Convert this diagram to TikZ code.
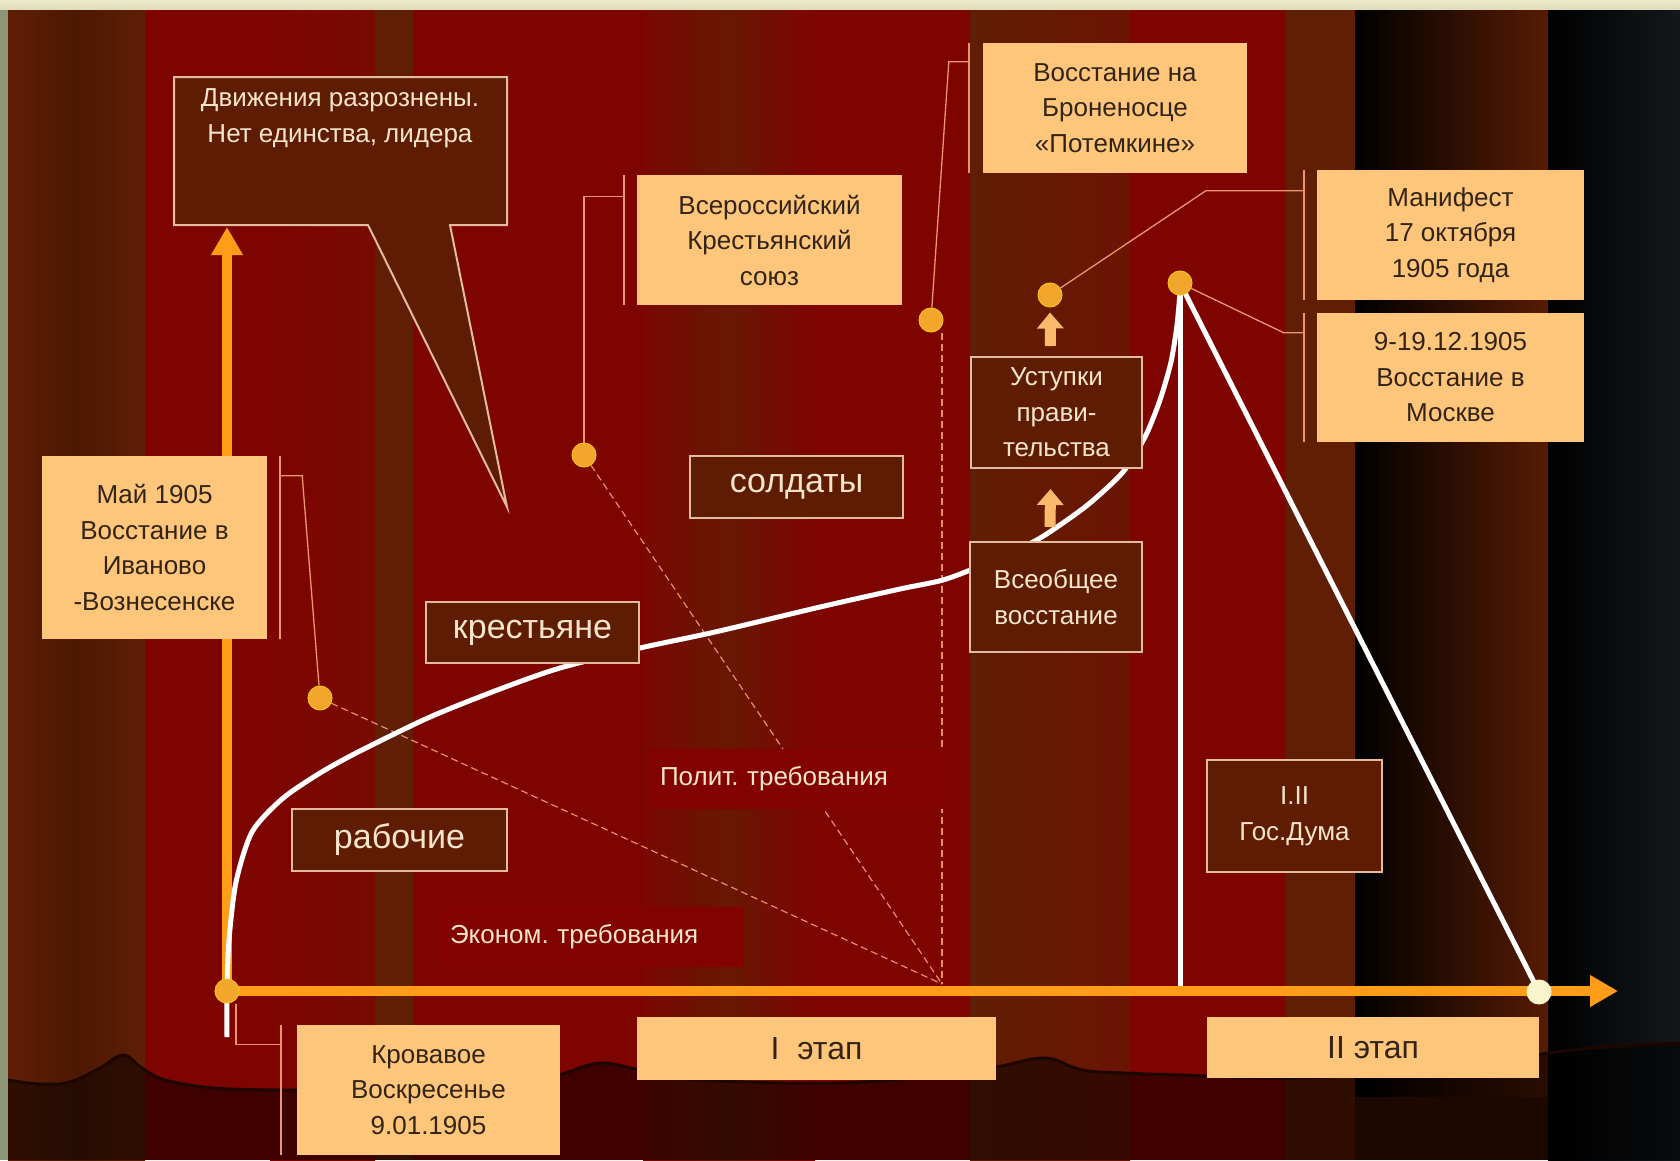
\documentclass[tikz,border=0pt]{standalone}
\usepackage{fontspec}
\setmainfont{Liberation Sans}
\usepackage{xcolor}
\usepackage{tikz}
\usetikzlibrary{arrows.meta}

\definecolor{stripeRed}{RGB}{126,4,0}
\definecolor{stripeBrown}{RGB}{96,30,4}
\definecolor{evFill}{RGB}{253,198,122}
\definecolor{evText}{RGB}{52,36,24}
\definecolor{grFill}{RGB}{94,28,3}
\definecolor{grLine}{RGB}{226,188,160}
\definecolor{grText}{RGB}{246,228,204}
\definecolor{axOrange}{RGB}{255,156,24}
\definecolor{dotFill}{RGB}{242,166,44}
\definecolor{endFill}{RGB}{250,244,205}
\definecolor{leadCol}{RGB}{236,150,112}
\definecolor{dashCol}{RGB}{232,144,98}
\definecolor{tagFill}{RGB}{130,2,0}
\definecolor{liftCol}{RGB}{250,186,108}
\definecolor{frameSide}{RGB}{142,148,118}
\definecolor{frameTop}{RGB}{236,234,200}
\definecolor{groundLine}{RGB}{30,6,0}
\definecolor{nightGray}{RGB}{20,23,27}

\pgfdeclarelayer{back}
\pgfdeclarelayer{lines}
\pgfsetlayers{back,lines,main}

\begin{document}
\frenchspacing
\begin{tikzpicture}[ % GLOBAL CFG
    x=1pt, y=-1pt,
    font=\fontsize{26}{35.5}\selectfont,
    % Styles
    eventbox/.style={% For the orange event boxes
        rectangle,
        fill=evFill,
        text=evText,
        align=center,
        inner sep=0pt,
        },
    stagebox/.style={% For the stages under the axis
        rectangle,
        fill=evFill,
        text=evText,
        inner sep=0pt,
        font=\fontsize{32}{38}\selectfont,
        },
    groupbox/.style={% For the dark boxes
        rectangle,
        draw=grLine,
        line width=2pt,
        fill=grFill,
        text=grText,
        align=center,
        inner sep=0pt,
        },
    bigtext/.style={% Social groups
        font=\fontsize{34}{40}\selectfont,
        },
    bubble/.style={% Speech bubble
        draw=grLine,
        line width=2pt,
        fill=grFill,
        },
    demandtag/.style={% Demands
        rectangle,
        fill=tagFill,
        text=grText,
        align=left,
        inner xsep=12pt,
        inner ysep=0pt,
        minimum height=60pt,
        },
    knot/.style={% Points on the time line
        circle,
        fill=dotFill,
        draw=dotFill!70!yellow,
        line width=1pt,
        minimum size=24pt,
        inner sep=0pt,
        },
    accent/.style={% Callout bars
        draw=leadCol,
        line width=2pt,
        },
    leader/.style={% Callout lines
        draw=leadCol,
        line width=1.3pt,
        },
    demand/.style={% Dashed lines
        draw=dashCol,
        line width=1.2pt,
        dash pattern=on 7pt off 4pt,
        },
    timeaxis/.style={% Axes
        draw=axOrange,
        line width=10pt,
        -{Triangle[width=30pt,length=28pt]},
        },
    trend/.style={% The white curve
        draw=white,
        line width=5pt,
        },
    lift/.style={% Small block arrows
        draw=liftCol,
        line width=11pt,
        -{Triangle[width=26pt,length=16pt]},
        },
    ]

    \useasboundingbox (0,0) rectangle (1680,1160);

    \begin{pgfonlayer}{back}
    % Stripes
    \shade[left color=stripeBrown, right color=stripeBrown, middle color=stripeBrown!80!black] (8,9) rectangle (145,1160);
    \fill[stripeRed] (145,9) rectangle (270,1160);
    \shade[left color=stripeRed, right color=stripeRed!75!stripeBrown] (270,9) rectangle (375,1160);
    \fill[stripeBrown] (375,9) rectangle (413,1160);
    \fill[stripeRed] (413,9) rectangle (643,1160);
    \shade[left color=stripeRed!85!stripeBrown, right color=stripeRed, middle color=stripeBrown!75!stripeRed] (643,9) rectangle (815,1160);
    \fill[stripeRed] (815,9) rectangle (970,1160);
    \shade[left color=stripeBrown, right color=stripeBrown!60!stripeRed] (970,9) rectangle (1130,1160);
    \fill[stripeRed] (1130,9) rectangle (1286,1160);
    \fill[stripeBrown] (1286,9) rectangle (1355,1160);
    \shade[left color=black, right color=stripeBrown!90!black] (1355,9) rectangle (1548,1097);
    \fill[stripeBrown!60!black] (1355,1097) rectangle (1548,1160);
    \shade[left color=black, right color=nightGray] (1548,9) rectangle (1680,1160);

    % Ground
    \fill[black, opacity=0.5] plot[smooth, tension=0.6] coordinates {(8,1080) (40,1084) (70,1082) (100,1068) (123,1055) (142,1068) (165,1080) (214,1088) (279,1090) (350,1090) (450,1086) (530,1080) (562,1074) (600,1063) (640,1070) (700,1080) (836,1083) (940,1075) (996,1067) (1045,1058) (1082,1070) (1125,1073) (1179,1075) (1300,1078) (1450,1068) (1548,1053) (1607,1047) (1680,1043)} -- (1680,1160) -- (8,1160) -- cycle;
    \draw[groundLine, line width=3pt] plot[smooth, tension=0.6] coordinates {(8,1080) (40,1084) (70,1082) (100,1068) (123,1055) (142,1068) (165,1080) (214,1088) (279,1090) (350,1090) (450,1086) (530,1080) (562,1074) (600,1063) (640,1070) (700,1080) (836,1083) (940,1075) (996,1067) (1045,1058) (1082,1070) (1125,1073) (1179,1075) (1300,1078) (1450,1068) (1548,1053) (1607,1047) (1680,1043)};

    % Frame
    \fill[frameSide] (0,0) rectangle (8,1160);
    \shade[top color=frameTop, bottom color=frameTop!85!frameSide] (0,0) rectangle (1680,9);
    \end{pgfonlayer}

    % Speech bubble
    \draw[bubble] (174,77) -- (507,77) -- (507,225) -- (450,225) -- (507,507) -- (368,225) -- (174,225) -- cycle;
    \node[text=grText, align=center] (scatter) at (340,118) {Движения разрознены.\\Нет единства, лидера};

    % Event boxes
    \node[eventbox, minimum width=225pt, minimum height=183pt] (may) at (154.5,547.5) {Май 1905\\Восстание в\\Иваново\\-Вознесенске};
    \node[eventbox, minimum width=263pt, minimum height=130pt] (bloody) at (428.5,1090) {Кровавое\\Воскресенье\\9.01.1905};
    \node[eventbox, minimum width=265pt, minimum height=130pt] (union) at (769.5,240) {Всероссийский\\Крестьянский\\союз};
    \node[eventbox, minimum width=264pt, minimum height=130pt] (potemkin) at (1115,108) {Восстание на\\Броненосце\\«Потемкине»};
    \node[eventbox, minimum width=267pt, minimum height=130pt] (manifest) at (1450.5,235) {Манифест\\17 октября\\1905 года};
    \node[eventbox, minimum width=267pt, minimum height=129pt] (moscow) at (1450.5,377.5) {9-19.12.1905\\Восстание в\\Москве};

    % Stages
    \node[stagebox, minimum width=359pt, minimum height=63pt] (stage1) at (816.5,1048.5) {I\ \ этап};
    \node[stagebox, minimum width=332pt, minimum height=61pt] (stage2) at (1373,1047.5) {II этап};

    % Groups
    \node[groupbox, bigtext, minimum width=213pt, minimum height=61pt] (peasants) at (532.5,632.5) {крестьяне};
    \node[groupbox, bigtext, minimum width=215pt, minimum height=62pt] (workers) at (399.5,840) {рабочие};
    \node[groupbox, bigtext, minimum width=213pt, minimum height=62pt] (soldiers) at (796.5,487) {солдаты};
    \node[groupbox, minimum width=172pt, minimum height=110pt] (strike) at (1056,597) {Всеобщее\\восстание};
    \node[groupbox, minimum width=171pt, minimum height=111pt] (concess) at (1056.5,412.5) {Уступки\\прави-\\тельства};
    \node[groupbox, minimum width=175pt, minimum height=112pt] (duma) at (1294.5,816) {I.II\\Гос.Дума};

    % Demands
    \node[demandtag, text width=271pt] (polit) at (795.5,779) {Полит. требования};
    \node[demandtag, text width=282pt] (econ) at (591,936.5) {Эконом. требования};

    % Points
    \node[knot] (origin) at (227,991) {};
    \node[knot] (dIvanovo) at (320,698) {};
    \node[knot] (dUnion) at (584,455) {};
    \node[knot] (dPotemkin) at (931,320) {};
    \node[knot] (dConcess) at (1050,295) {};
    \node[knot] (peak) at (1180,283) {};
    \node[knot, fill=endFill, draw=endFill] (finish) at (1539,992) {};

    \coordinate (conv) at (942,984);
    \coordinate (ytip) at (227,227);
    \coordinate (xtip) at (1618,991);

    \begin{pgfonlayer}{lines}
    % Callout bars
    \draw[accent] ([xshift=13pt]may.north east) -- ([xshift=13pt]may.south east);
    \draw[accent] ([xshift=-16pt]bloody.north west) -- ([xshift=-16pt]bloody.south west);
    \draw[accent] ([xshift=-13pt]union.north west) -- ([xshift=-13pt]union.south west);
    \draw[accent] ([xshift=-14pt]potemkin.north west) -- ([xshift=-14pt]potemkin.south west);
    \draw[accent] ([xshift=-13pt]manifest.north west) -- ([xshift=-13pt]manifest.south west);
    \draw[accent] ([xshift=-13pt]moscow.north west) -- ([xshift=-13pt]moscow.south west);

    % Callout lines
    \draw[leader] ([xshift=13pt, yshift=-20pt]may.north east) -- ++(22,0) -- (dIvanovo);
    \draw[leader] ([xshift=-16pt, yshift=-20pt]bloody.north west) -| ([xshift=9pt]origin.south);
    \draw[leader] ([xshift=-13pt, yshift=-22pt]union.north west) -| (dUnion);
    \draw[leader] ([xshift=-14pt, yshift=-19pt]potemkin.north west) -- ++(-20,0) -- (dPotemkin);
    \draw[leader] ([xshift=-13pt, yshift=-21pt]manifest.north west) -- ++(-98,0) -- (dConcess);
    \draw[leader] ([xshift=-13pt, yshift=-20pt]moscow.north west) -- ++(-20,0) -- (peak);

    % Dashed lines
    \draw[demand] (dIvanovo) -- (conv);
    \draw[demand] (dUnion) -- (conv);
    \draw[demand] (dPotemkin.south -| conv) -- (conv);

    % Axes
    \draw[timeaxis] (origin.center) -- (ytip);
    \draw[timeaxis] (origin.center) -- (xtip);

    % Curve
    \draw[trend] plot[smooth, tension=0.45] coordinates {(227,1037) (227,991) (229,940) (236,882) (252,832) (282,799) (320,773) (360,751) (430,717) (500,689) (560,668) (640,648) (715,632) (820,607) (900,589) (943,580) (980,566) (1033,542) (1060,525) (1090,503) (1123,472) (1145,437) (1160,400) (1171,362) (1177,325) (1180,292)};
    \draw[trend, shorten >=5pt] (peak.center) -- (peak.center |- origin.center);
    \draw[trend] (peak.center) -- (finish.center);

    % Block arrows
    \draw[lift] ([xshift=-6pt, yshift=14pt]strike.north) -- ([xshift=-6pt, yshift=-20pt]concess.south);
    \draw[lift] ([xshift=-6pt, yshift=10pt]concess.north) -- ([yshift=-5pt]dConcess.south);
    \end{pgfonlayer}

\end{tikzpicture}
\end{document}
